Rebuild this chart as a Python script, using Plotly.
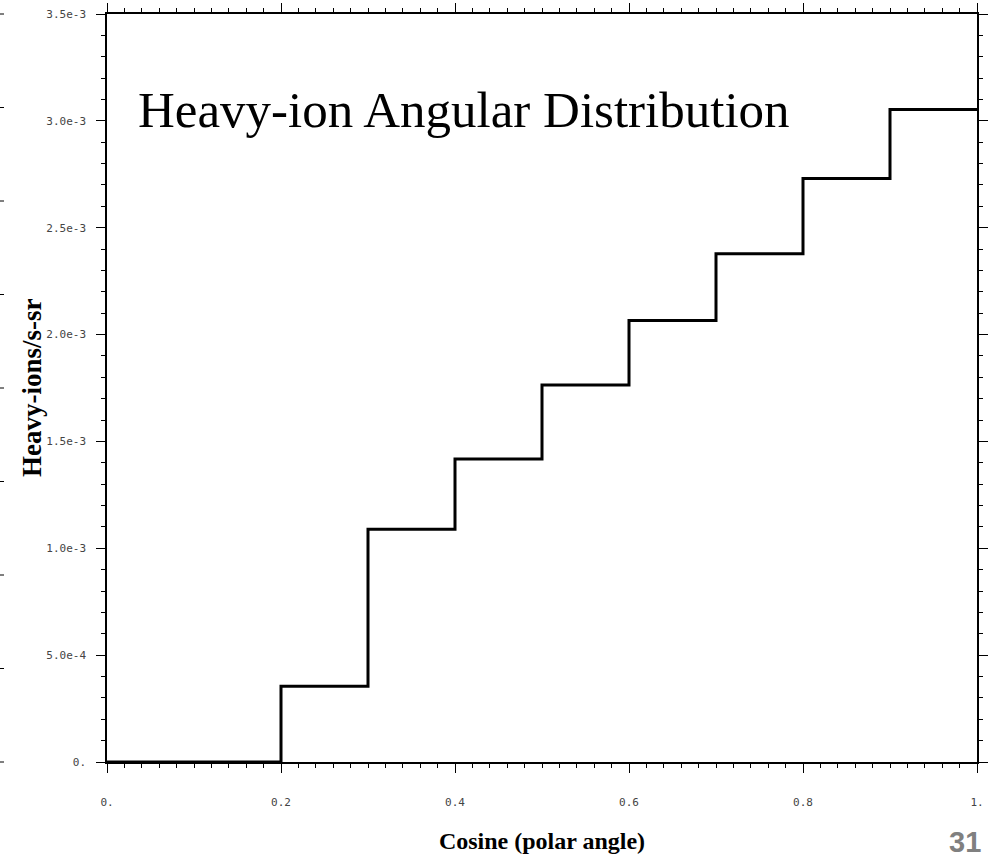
import plotly.graph_objects as go

# Histogram of heavy-ion counts per cosine bin
bin_edges = [0.0, 0.1, 0.2, 0.3, 0.4, 0.5, 0.6, 0.7, 0.8, 0.9, 1.0]
rates = [0.0, 0.0, 0.354e-3, 1.089e-3, 1.418e-3, 1.764e-3, 2.066e-3, 2.378e-3, 2.730e-3, 3.053e-3]

x_tickvals = [0.0, 0.2, 0.4, 0.6, 0.8, 1.0]
x_ticktext = ["0.", "0.2", "0.4", "0.6", "0.8", "1."]
y_tickvals = [0.0, 0.5e-3, 1.0e-3, 1.5e-3, 2.0e-3, 2.5e-3, 3.0e-3, 3.5e-3]
y_ticktext = ["0.", "5.0e-4", "1.0e-3", "1.5e-3", "2.0e-3", "2.5e-3", "3.0e-3", "3.5e-3"]

W, H = 994, 858
L, R, T, B = 107, 17, 14, 96

fig = go.Figure()
fig.add_trace(go.Scatter(
    x=bin_edges,
    y=rates + [rates[-1]],
    mode="lines",
    line=dict(shape="hv", color="black", width=3),
    cliponaxis=False,
    showlegend=False,
    hoverinfo="skip",
))

tick_font = dict(family="DejaVu Sans Mono", size=11, color="#444444")
axis_common = dict(
    showline=True, linecolor="black", linewidth=1.5, mirror="ticks",
    ticks="outside", ticklen=9, tickwidth=1, tickcolor="black",
    showgrid=False, zeroline=False, tickfont=tick_font,
)

fig.update_xaxes(
    range=[0, 1], tickmode="array", tickvals=x_tickvals, ticktext=x_ticktext,
    minor=dict(ticks="outside", ticklen=4, tickwidth=1, tickcolor="black",
               tickmode="linear", tick0=0, dtick=0.02, showgrid=False),
    ticklabelstandoff=20,
    title=dict(text="<b>Cosine (polar angle)</b>",
               font=dict(family="Liberation Serif", size=24, color="black"),
               standoff=24),
    **axis_common,
)
fig.update_yaxes(
    range=[0, 3.5e-3], tickmode="array", tickvals=y_tickvals, ticktext=y_ticktext,
    minor=dict(ticks="outside", ticklen=4, tickwidth=1, tickcolor="black",
               tickmode="linear", tick0=0, dtick=1e-4, showgrid=False),
    ticklabelstandoff=8,
    **axis_common,
)

pw, ph = W - L - R, H - T - B

# Vertical axis label, placed close to the tick labels
fig.add_annotation(
    text="<b>Heavy-ions/s-sr</b>", xref="paper", yref="paper",
    x=(32 - L) / pw, y=0.5, xanchor="center", yanchor="middle", textangle=-90,
    showarrow=False, font=dict(family="Liberation Serif", size=27, color="black"),
)

# Heading drawn inside the plotting area
fig.add_annotation(
    text="Heavy-ion Angular Distribution", xref="paper", yref="paper",
    x=(136 - L) / pw, y=(ph - (110 - T)) / ph, xanchor="left", yanchor="middle",
    showarrow=False, font=dict(family="Liberation Serif", size=51, color="black"),
)

# Slide number
fig.add_annotation(
    text="<b>31</b>", xref="paper", yref="paper",
    x=(965 - L) / pw, y=-(842 - T - ph) / ph, xanchor="center", yanchor="middle",
    showarrow=False, font=dict(family="Liberation Sans", size=29, color="#808080"),
)

# Stray tick marks along the left page edge
edge_ticks = [dict(type="line", xref="paper", yref="paper",
                   x0=-L / pw, x1=-(L - 4) / pw, y0=i / 8, y1=i / 8,
                   line=dict(color="black", width=1))
              for i in range(9)]

fig.update_layout(
    width=W, height=H,
    margin=dict(l=L, r=R, t=T, b=B, autoexpand=False),
    paper_bgcolor="white", plot_bgcolor="white",
    shapes=edge_ticks,
)

fig.write_html("out.html")
